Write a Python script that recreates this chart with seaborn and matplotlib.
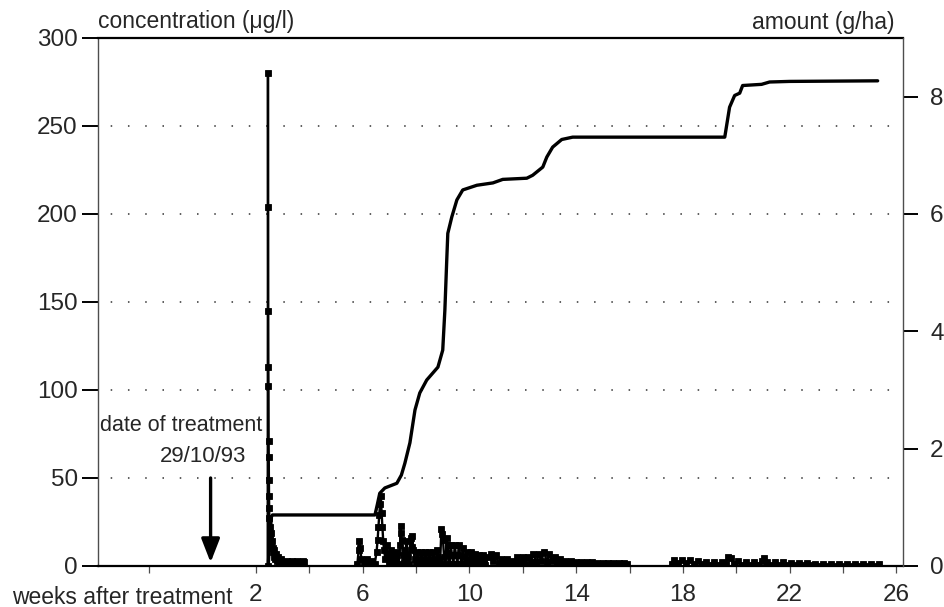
import numpy as np
import pandas as pd
import matplotlib
matplotlib.use("Agg")
import matplotlib.pyplot as plt
import seaborn as sns

sns.set_theme(style="ticks")
plt.rcParams["font.family"] = ["Liberation Sans", "DejaVu Sans"]
plt.rcParams["font.size"] = 16

# Concentration in drain water (µg/l) -- first flush after treatment
peak_weeks = [2.44, 2.45, 2.455, 2.46, 2.465, 2.47, 2.475, 2.48, 2.485, 2.49,
              2.495, 2.50, 2.51, 2.52, 2.54, 2.56, 2.58, 2.60, 2.62, 2.64,
              2.66, 2.68, 2.71, 2.74, 2.78, 2.82, 2.88, 2.95, 3.05, 3.15,
              3.25, 3.35, 3.45, 3.55, 3.65, 3.75, 3.80]
peak_conc = [0, 280, 204, 145, 113, 102, 71, 62, 49, 40,
             33, 27, 22, 18, 15, 19, 12, 14, 8, 10,
             5, 9, 4, 7, 3, 5, 2, 4, 2, 3,
             2, 3, 2, 3, 2, 3, 2]

# second drainage period
mid_weeks = [5.80, 5.85, 5.88, 5.91, 5.95, 6.05, 6.15, 6.25, 6.35, 6.45,
             6.52, 6.56, 6.59, 6.62, 6.65, 6.68, 6.71, 6.74, 6.77, 6.80,
             6.85, 6.90, 6.95, 7.00, 7.05, 7.10, 7.15, 7.20, 7.25, 7.30,
             7.35, 7.40, 7.42, 7.44, 7.46, 7.50, 7.55, 7.60, 7.65, 7.70,
             7.75, 7.80, 7.83, 7.86, 7.90, 7.95, 8.00, 8.05, 8.10, 8.15,
             8.20, 8.25, 8.30, 8.35, 8.40, 8.45, 8.50, 8.55, 8.60, 8.65,
             8.70, 8.75, 8.80, 8.85, 8.90, 8.95, 8.98, 9.01, 9.05, 9.10,
             9.15, 9.18, 9.22, 9.26, 9.30, 9.35, 9.40, 9.45, 9.50, 9.55,
             9.60, 9.65, 9.70, 9.75, 9.80, 9.85, 9.90, 9.95, 10.0, 10.05,
             10.1, 10.15, 10.2, 10.25, 10.3, 10.35, 10.4, 10.45, 10.5, 10.55,
             10.6, 10.7, 10.8, 10.9, 11.0, 11.1, 11.2, 11.3, 11.4, 11.5,
             11.6, 11.7, 11.8, 11.9, 12.0, 12.1, 12.2, 12.3, 12.4, 12.5,
             12.6, 12.7, 12.8, 12.9, 13.0, 13.1, 13.2, 13.3, 13.4, 13.5,
             13.6, 13.7, 13.8, 13.9, 14.0, 14.1, 14.2, 14.3, 14.4, 14.5,
             14.6, 14.7, 14.8, 14.9, 15.0, 15.1, 15.2, 15.3, 15.4, 15.5,
             15.6, 15.7, 15.8, 15.9]
mid_conc = [1, 9, 14, 10, 4, 1, 4, 1, 3, 1,
            8, 15, 22, 29, 35, 40, 30, 22, 14, 9,
            4, 12, 7, 2, 9, 5, 1, 7, 3, 8,
            1, 12, 23, 19, 15, 6, 2, 9, 14, 5,
            1, 16, 11, 17, 9, 4, 1, 8, 4, 1,
            8, 4, 1, 8, 4, 1, 8, 4, 1, 8,
            4, 1, 9, 4, 1, 21, 18, 15, 5, 1,
            16, 12, 6, 1, 12, 6, 1, 12, 6, 1,
            12, 6, 1, 10, 5, 1, 8, 4, 1, 8,
            4, 1, 7, 3, 0.5, 6, 3, 0.5, 6, 3,
            0.5, 5, 7, 3, 6, 1, 4, 2, 4, 1,
            3, 1, 5, 2, 5, 1, 5, 2, 7, 2,
            7, 3, 8, 2, 7, 3, 5, 1, 4, 1,
            3, 1, 3, 1, 2, 0.5, 2, 0.5, 2, 0.5,
            2, 0.5, 1.5, 0.5, 1.5, 0.5, 1.5, 0.5, 1.5, 0.5,
            1.5, 0.5, 1.5, 1]

# third drainage period
late_weeks = [17.6, 17.65, 17.8, 17.95, 18.1, 18.25, 18.4, 18.55, 18.7, 18.85,
              19.0, 19.15, 19.3, 19.45, 19.6, 19.7, 19.8, 19.9, 20.05, 20.2,
              20.35, 20.5, 20.65, 20.8, 20.95, 21.05, 21.15, 21.3, 21.45, 21.6,
              21.75, 21.9, 22.05, 22.2, 22.35, 22.5, 22.65, 22.8, 22.95, 23.1,
              23.25, 23.4, 23.55, 23.7, 23.85, 24.0, 24.15, 24.3, 24.45, 24.6,
              24.75, 24.9, 25.05, 25.2, 25.35]
late_conc = [1, 3.5, 1.5, 3.5, 1.5, 3.5, 1, 3, 1, 2.5,
             0.5, 2.5, 0.5, 2.5, 1, 5, 4.5, 1, 3, 0.5,
             2.5, 0.5, 2, 0.5, 3, 4.5, 2, 0.5, 2, 0.5,
             2, 0.5, 1.5, 0.3, 1.5, 0.3, 1.5, 0.3, 1.2, 0.2,
             1.2, 0.2, 1.2, 0.2, 1, 0.2, 1, 0.2, 1, 0.2,
             1, 0.2, 1, 0.2, 1]

# Cumulative amount leached (g/ha)
cum_weeks = [2.46, 2.52, 2.58, 2.62, 6.46, 6.55, 6.64, 6.83, 7.28, 7.45,
             7.58, 7.77, 7.96, 8.14, 8.40, 8.82, 9.00, 9.08, 9.15, 9.19,
             9.34, 9.53, 9.75, 10.28, 10.88, 11.25, 12.15, 12.37, 12.75, 12.90,
             13.12, 13.46, 13.87, 14.88, 19.57, 19.75, 19.94, 20.13, 20.24, 20.95,
             21.25, 22.0, 25.3]
cum_amount = [0.0, 0.5, 0.84, 0.87, 0.87, 1.05, 1.24, 1.33, 1.41, 1.55,
              1.75, 2.10, 2.66, 2.95, 3.17, 3.39, 3.68, 4.36, 5.21, 5.67,
              5.95, 6.24, 6.41, 6.49, 6.53, 6.59, 6.61, 6.66, 6.80, 6.97,
              7.14, 7.27, 7.31, 7.31, 7.31, 7.82, 8.02, 8.06, 8.19, 8.21,
              8.25, 8.26, 8.27]

x_ticks = [-2, 2, 4, 6, 8, 10, 12, 14, 16, 18, 20, 22, 24, 26]
x_labels = ["", "2", "", "6", "", "10", "", "14", "", "18", "", "22", "", "26"]
conc_ticks = [0, 50, 100, 150, 200, 250, 300]
amount_ticks = [0, 2, 4, 6, 8]
treatment_week = 0.3

conc_df = pd.DataFrame({
    "week": peak_weeks + mid_weeks + late_weeks,
    "conc": peak_conc + mid_conc + late_conc,
    "period": ["a"] * len(peak_weeks) + ["b"] * len(mid_weeks) + ["c"] * len(late_weeks),
})
cum_df = pd.DataFrame({"week": cum_weeks, "amount": cum_amount})

fig, ax = plt.subplots(figsize=(9.44, 6.07), dpi=100)
fig.subplots_adjust(left=98 / 944, right=903 / 944, bottom=1 - 566 / 607, top=1 - 38 / 607)

ax.set_xlim(-3.92, 26.25)
ax.set_ylim(0, 300)

# dotted reference lines
for v in conc_ticks[1:-1]:
    ax.axhline(v, color="0.2", lw=1.1, ls=(3, (1, 10.3)), zorder=0)

sns.lineplot(data=conc_df, x="week", y="conc", units="period", estimator=None,
             sort=False, color="black", lw=1.7, marker="s", markersize=5.0,
             markeredgewidth=0.6, markeredgecolor="black", markerfacecolor="black",
             ax=ax, legend=False)

ax2 = ax.twinx()
ax2.set_ylim(0, 9)
sns.lineplot(data=cum_df, x="week", y="amount", color="black", lw=2.4,
             ax=ax2, legend=False, solid_joinstyle="round", solid_capstyle="round")

# axes styling
ax.set_xlabel("")
ax.set_ylabel("")
ax2.set_ylabel("")
ax.set_xticks(x_ticks)
ax.set_xticklabels(x_labels)
ax.set_yticks(conc_ticks)
ax.set_yticklabels([str(t) for t in conc_ticks])
ax2.set_yticks(amount_ticks)
ax2.set_yticklabels([str(t) for t in amount_ticks])

for side in ["top", "bottom"]:
    ax.spines[side].set_linewidth(1.6)
    ax.spines[side].set_color("black")
ax.spines["left"].set_linewidth(1.0)
ax.spines["left"].set_color("0.3")
ax.spines["right"].set_visible(False)
for side in ["top", "bottom", "left"]:
    ax2.spines[side].set_visible(False)
ax2.spines["right"].set_visible(True)
ax2.spines["right"].set_linewidth(1.0)
ax2.spines["right"].set_color("0.3")

ax.tick_params(axis="y", direction="out", length=11.5, width=1.4, pad=3,
               labelsize=17.5, color="black")
ax.tick_params(axis="x", direction="out", length=5, width=0.9, pad=8,
               labelsize=17.5, color="0.3")
ax2.tick_params(axis="y", direction="out", length=10.5, width=1.4, pad=9,
                labelsize=17.5, color="black")

# treatment marker
ax.annotate("", xy=(treatment_week, 2), xytext=(treatment_week, 50),
            arrowprops=dict(arrowstyle="-|>,head_length=0.9,head_width=0.35",
                            color="black", lw=2.4, shrinkA=0, shrinkB=0))
ax.text(-0.8, 80, "date of treatment", ha="center", va="center", fontsize=15.5)
ax.text(0.02, 62, "29/10/93", ha="center", va="center", fontsize=16)

fig.text(98 / 944, 1 - 28 / 607, "concentration (\u03bcg/l)", ha="left",
         va="baseline", fontsize=16.5)
fig.text(895 / 944, 1 - 29 / 607, "amount (g/ha)", ha="right",
         va="baseline", fontsize=16.5)
fig.text(12 / 944, 1 - 597 / 607, "weeks after treatment", ha="left",
         va="center", fontsize=16.5)

fig.savefig("out.png", dpi=100)
